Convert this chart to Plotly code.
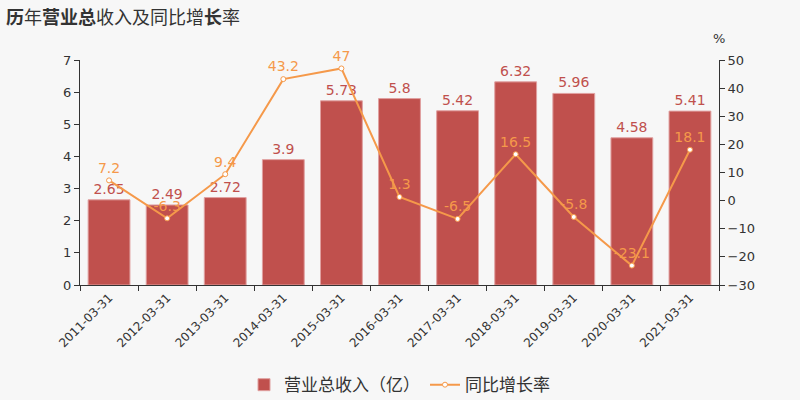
import plotly.graph_objects as go

dates = ["2011-03-31", "2012-03-31", "2013-03-31", "2014-03-31", "2015-03-31", "2016-03-31",
         "2017-03-31", "2018-03-31", "2019-03-31", "2020-03-31", "2021-03-31"]
revenue = [2.65, 2.49, 2.72, 3.9, 5.73, 5.8, 5.42, 6.32, 5.96, 4.58, 5.41]
growth = [7.2, -6.3, 9.4, 43.2, 47, 1.3, -6.5, 16.5, -5.8, -23.1, 18.1]

bar_color = "#c0504d"
line_color = "#f5994a"
font = "Noto Sans CJK SC, DejaVu Sans, sans-serif"

fig = go.Figure()
fig.add_trace(go.Bar(
    x=dates, y=revenue, name="营业总收入（亿）",
    marker=dict(color=bar_color, line=dict(color="#e0a0a0", width=1)),
    width=0.72,
    text=[str(v) for v in revenue], textposition="outside",
    textfont=dict(color=bar_color, size=14, family="DejaVu Sans"),
    cliponaxis=False,
))
fig.add_trace(go.Scatter(
    x=dates, y=growth, name="同比增长率", yaxis="y2", mode="lines+markers+text",
    line=dict(color=line_color, width=2),
    marker=dict(symbol="circle", size=5, color="white", line=dict(color=line_color, width=1)),
    text=[str(v) for v in growth], textposition="top center",
    textfont=dict(color=line_color, size=14, family="DejaVu Sans"),
    cliponaxis=False,
))

fig.update_layout(
    width=800, height=400,
    paper_bgcolor="#f7f7f7", plot_bgcolor="#f7f7f7",
    margin=dict(l=80, r=81, t=60, b=115, autoexpand=False),
    font=dict(family=font, color="#333333"),
    bargap=0.28,
    showlegend=True,
    legend=dict(orientation="h", x=0.5, xanchor="center", y=-0.445, yanchor="middle",
                font=dict(size=17, color="#333333", family=font), bgcolor="rgba(0,0,0,0)"),
    xaxis=dict(type="category", range=[-0.5, len(dates) - 0.5], showline=True, linecolor="#333333",
               ticks="outside", tickson="boundaries", ticklen=5, tickcolor="#333333", tickangle=-45,
               automargin=False,
               tickfont=dict(size=12, family="DejaVu Sans", color="#333333"), showgrid=False),
    yaxis=dict(range=[0, 7], dtick=1, showline=True, linecolor="#333333", ticks="outside",
               ticklen=5, tickcolor="#333333", showgrid=False, zeroline=False, automargin=False,
               tickfont=dict(size=13, family="DejaVu Sans", color="#333333")),
    yaxis2=dict(range=[-30, 50], dtick=10, overlaying="y", side="right", showline=True,
                linecolor="#333333", ticks="outside", ticklen=5, tickcolor="#333333",
                showgrid=False, zeroline=False, automargin=False,
                tickfont=dict(size=13, family="DejaVu Sans", color="#333333")),
    annotations=[
        dict(text="<b>历</b>年<b>营业总</b>收入及同比增<b>长</b>率", x=0, y=1, xref="paper", yref="paper",
             xanchor="left", yanchor="top", showarrow=False,
             font=dict(size=18, family=font, color="#333333"), xshift=-76, yshift=59),
        dict(text="%", x=1, y=1, xref="paper", yref="paper", xanchor="center", yanchor="bottom",
             showarrow=False, font=dict(size=13, family="DejaVu Sans", color="#333333"), yshift=12),
    ],
)

fig.write_html("out.html")
